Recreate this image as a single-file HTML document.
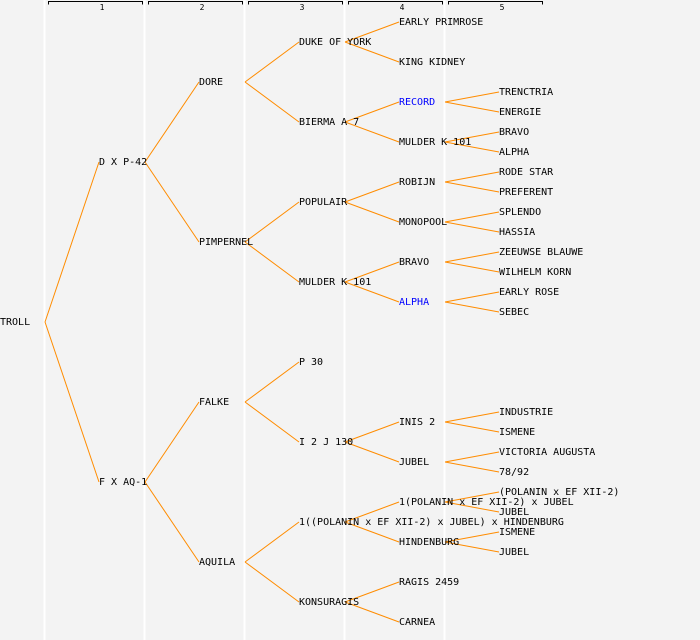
<!DOCTYPE html>
<html><head><meta charset="utf-8"><style>
html,body{margin:0;padding:0;background:#f3f3f3;}
svg{display:block;}
text{font-family:"DejaVu Sans Mono","Liberation Mono",monospace;font-size:10px;fill:#000;}
</style></head><body>
<svg width="700" height="640" viewBox="0 0 700 640" xmlns="http://www.w3.org/2000/svg">
<rect width="700" height="640" fill="#f3f3f3"/>
<g stroke="#ffffff" stroke-width="2">
<line x1="44.5" y1="0" x2="44.5" y2="640"/>
<line x1="144.5" y1="0" x2="144.5" y2="640"/>
<line x1="244.5" y1="0" x2="244.5" y2="640"/>
<line x1="344.5" y1="0" x2="344.5" y2="640"/>
<line x1="444.5" y1="0" x2="444.5" y2="640"/>
</g>
<g stroke="#000" stroke-width="1" fill="none">
<path d="M48.5,4.5V1.5H142.5V4.5"/>
<path d="M148.5,4.5V1.5H242.5V4.5"/>
<path d="M248.5,4.5V1.5H342.5V4.5"/>
<path d="M348.5,4.5V1.5H442.5V4.5"/>
<path d="M448.5,4.5V1.5H542.5V4.5"/>
</g>
<g text-anchor="middle">
<text x="102" y="10" style="font-size:8px">1</text>
<text x="202" y="10" style="font-size:8px">2</text>
<text x="302" y="10" style="font-size:8px">3</text>
<text x="402" y="10" style="font-size:8px">4</text>
<text x="502" y="10" style="font-size:8px">5</text>
</g>
<g stroke="#ff8c00" stroke-width="1" fill="none">
<path d="M45,322L99,162M45,322L99,482"/>
<path d="M145,162L199,82M145,162L199,242M145,482L199,402M145,482L199,562"/>
<path d="M245,82L299,42M245,82L299,122M245,242L299,202M245,242L299,282M245,402L299,362M245,402L299,442M245,562L299,522M245,562L299,602"/>
<path d="M345,42L399,22M345,42L399,62M345,122L399,102M345,122L399,142M345,202L399,182M345,202L399,222M345,282L399,262M345,282L399,302M345,442L399,422M345,442L399,462M345,522L399,502M345,522L399,542M345,602L399,582M345,602L399,622"/>
<path d="M445,102L499,92M445,102L499,112M445,142L499,132M445,142L499,152M445,182L499,172M445,182L499,192M445,222L499,212M445,222L499,232M445,262L499,252M445,262L499,272M445,302L499,292M445,302L499,312M445,422L499,412M445,422L499,432M445,462L499,452M445,462L499,472M445,502L499,492M445,502L499,512M445,542L499,532M445,542L499,552"/>
</g>
<g transform="translate(0,-1)">
<text x="0" y="326">TROLL</text>
<text x="99" y="166">D X P-42</text>
<text x="99" y="486">F X AQ-1</text>
<text x="199" y="86">DORE</text>
<text x="199" y="246">PIMPERNEL</text>
<text x="199" y="406">FALKE</text>
<text x="199" y="566">AQUILA</text>
<text x="299" y="46">DUKE OF YORK</text>
<text x="299" y="126">BIERMA A 7</text>
<text x="299" y="206">POPULAIR</text>
<text x="299" y="286">MULDER K 101</text>
<text x="299" y="366">P 30</text>
<text x="299" y="446">I 2 J 130</text>
<text x="299" y="526">1((POLANIN x EF XII-2) x JUBEL) x HINDENBURG</text>
<text x="299" y="606">KONSURAGIS</text>
<text x="399" y="26">EARLY PRIMROSE</text>
<text x="399" y="66">KING KIDNEY</text>
<text x="399" y="106" style="fill:#0000ff">RECORD</text>
<text x="399" y="146">MULDER K 101</text>
<text x="399" y="186">ROBIJN</text>
<text x="399" y="226">MONOPOOL</text>
<text x="399" y="266">BRAVO</text>
<text x="399" y="306" style="fill:#0000ff">ALPHA</text>
<text x="399" y="426">INIS 2</text>
<text x="399" y="466">JUBEL</text>
<text x="399" y="506">1(POLANIN x EF XII-2) x JUBEL</text>
<text x="399" y="546">HINDENBURG</text>
<text x="399" y="586">RAGIS 2459</text>
<text x="399" y="626">CARNEA</text>
<text x="499" y="96">TRENCTRIA</text>
<text x="499" y="116">ENERGIE</text>
<text x="499" y="136">BRAVO</text>
<text x="499" y="156">ALPHA</text>
<text x="499" y="176">RODE STAR</text>
<text x="499" y="196">PREFERENT</text>
<text x="499" y="216">SPLENDO</text>
<text x="499" y="236">HASSIA</text>
<text x="499" y="256">ZEEUWSE BLAUWE</text>
<text x="499" y="276">WILHELM KORN</text>
<text x="499" y="296">EARLY ROSE</text>
<text x="499" y="316">SEBEC</text>
<text x="499" y="416">INDUSTRIE</text>
<text x="499" y="436">ISMENE</text>
<text x="499" y="456">VICTORIA AUGUSTA</text>
<text x="499" y="476">78/92</text>
<text x="499" y="496">(POLANIN x EF XII-2)</text>
<text x="499" y="516">JUBEL</text>
<text x="499" y="536">ISMENE</text>
<text x="499" y="556">JUBEL</text>
</g>
</svg>
</body></html>
